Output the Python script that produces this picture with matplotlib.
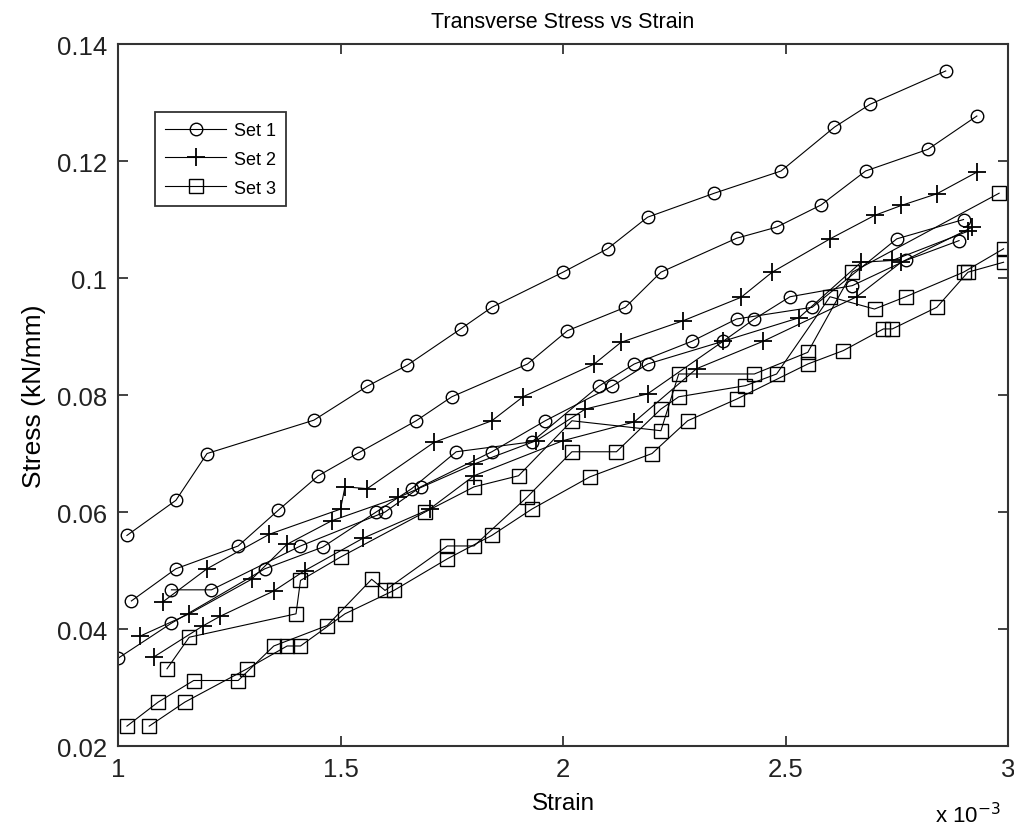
import numpy as np
import matplotlib
matplotlib.use("Agg")
from matplotlib import pyplot as plt

# Strain values are in units of 1e-3, stress in kN/mm.

# * Set 1 (circles)
s1a_x = [1.02, 1.13, 1.20, 1.44, 1.56, 1.65, 1.77, 1.84, 2.00, 2.10, 2.19, 2.34, 2.49, 2.61, 2.69, 2.86]
s1a_y = [0.056, 0.062, 0.070, 0.0757, 0.0815, 0.0851, 0.0913, 0.095, 0.101, 0.105, 0.1104, 0.1145, 0.1183, 0.1258, 0.1297, 0.1354]
s1b_x = [1.03, 1.13, 1.27, 1.36, 1.45, 1.54, 1.67, 1.75, 1.92, 2.01, 2.14, 2.22, 2.39, 2.48, 2.58, 2.68, 2.82, 2.93]
s1b_y = [0.0448, 0.0503, 0.0542, 0.0603, 0.0662, 0.0701, 0.0756, 0.0797, 0.0853, 0.091, 0.095, 0.101, 0.1068, 0.1087, 0.1125, 0.1183, 0.122, 0.1277]
s1c_x = [1.00, 1.12, 1.33, 1.46, 1.58, 1.66, 1.76, 1.93, 2.08, 2.16, 2.29, 2.39, 2.56, 2.75, 2.90]
s1c_y = [0.035, 0.041, 0.0503, 0.054, 0.060, 0.064, 0.0703, 0.072, 0.0815, 0.0853, 0.0892, 0.093, 0.095, 0.1067, 0.110]
s1d_x = [1.12, 1.21, 1.41, 1.60, 1.68, 1.84, 1.96, 2.11, 2.19, 2.36, 2.43, 2.51, 2.65, 2.77, 2.89]
s1d_y = [0.0467, 0.0467, 0.0542, 0.060, 0.0643, 0.0703, 0.0756, 0.0815, 0.0853, 0.0892, 0.093, 0.0968, 0.0987, 0.103, 0.1064]

# * Set 2 (plus)
s2a_x = [1.10, 1.20, 1.34, 1.50, 1.51, 1.56, 1.71, 1.84, 1.91, 2.07, 2.13, 2.27, 2.40, 2.47, 2.60, 2.70, 2.76, 2.84, 2.93]
s2a_y = [0.0446, 0.0503, 0.0562, 0.0605, 0.0643, 0.064, 0.0719, 0.0756, 0.0797, 0.0853, 0.089, 0.0927, 0.0967, 0.101, 0.1067, 0.1107, 0.1124, 0.1144, 0.1181]
s2b_x = [1.05, 1.16, 1.30, 1.38, 1.48, 1.63, 1.80, 1.94, 2.05, 2.19, 2.36, 2.53, 2.67, 2.74, 2.91]
s2b_y = [0.0388, 0.0426, 0.0485, 0.0545, 0.0585, 0.0625, 0.0682, 0.0722, 0.0776, 0.0802, 0.0892, 0.0932, 0.1027, 0.103, 0.108]
s2c_x = [1.08, 1.19, 1.23, 1.35, 1.42, 1.55, 1.70, 1.80, 2.00, 2.16, 2.30, 2.45, 2.66, 2.76, 2.92]
s2c_y = [0.0352, 0.0405, 0.0422, 0.0465, 0.050, 0.0555, 0.0605, 0.0662, 0.0722, 0.0754, 0.0845, 0.0892, 0.0968, 0.1027, 0.1087]

# * Set 3 (squares)
s3a_x = [1.02, 1.09, 1.17, 1.27, 1.35, 1.47, 1.57, 1.60, 1.74, 1.80, 1.92, 2.02, 2.12, 2.22, 2.26, 2.41, 2.48, 2.60, 2.70, 2.77, 2.90, 2.99]
s3a_y = [0.0234, 0.0275, 0.0312, 0.0312, 0.0371, 0.0406, 0.0485, 0.0466, 0.0542, 0.0542, 0.0626, 0.0703, 0.0703, 0.0776, 0.0797, 0.0816, 0.0836, 0.0968, 0.0947, 0.0968, 0.101, 0.105]
s3b_x = [1.07, 1.15, 1.29, 1.38, 1.41, 1.51, 1.62, 1.74, 1.84, 1.93, 2.06, 2.20, 2.28, 2.39, 2.55, 2.63, 2.72, 2.74, 2.84, 2.91, 2.99]
s3b_y = [0.0234, 0.0275, 0.0332, 0.0371, 0.0371, 0.0426, 0.0466, 0.052, 0.056, 0.0605, 0.066, 0.070, 0.0756, 0.0793, 0.0853, 0.0876, 0.0913, 0.0913, 0.095, 0.101, 0.1027]
s3c_x = [1.11, 1.16, 1.40, 1.41, 1.50, 1.69, 1.80, 1.90, 2.02, 2.22, 2.26, 2.43, 2.55, 2.65, 2.98]
s3c_y = [0.0332, 0.0386, 0.0426, 0.0483, 0.0523, 0.060, 0.0643, 0.0662, 0.0756, 0.0739, 0.0836, 0.0836, 0.0873, 0.101, 0.1145]

x_ticks = [1, 1.5, 2, 2.5, 3]
x_labels = ["1", "1.5", "2", "2.5", "3"]
y_ticks = [0.02, 0.04, 0.06, 0.08, 0.1, 0.12, 0.14]
y_labels = ["0.02", "0.04", "0.06", "0.08", "0.1", "0.12", "0.14"]

plt.rcParams['font.family'] = ['Liberation Sans', 'DejaVu Sans']

fig = plt.figure(figsize=(10.14, 8.28), dpi=100)
ax = fig.add_axes([0.1164, 0.0978, 0.8777, 0.8478])

lw = 0.8
circ = dict(marker='o', markersize=9, fillstyle='none', markeredgewidth=1.0)
plus = dict(marker='+', markersize=13, markeredgewidth=1.3)
sq = dict(marker='s', markersize=10, fillstyle='none', markeredgewidth=1.0)

ax.plot(s1a_x, s1a_y, 'k-', lw=lw, label='Set 1', **circ)
ax.plot(s1b_x, s1b_y, 'k-', lw=lw, **circ)
ax.plot(s1c_x, s1c_y, 'k-', lw=lw, **circ)
ax.plot(s1d_x, s1d_y, 'k-', lw=lw, **circ)
ax.plot(s2a_x, s2a_y, 'k-', lw=lw, label='Set 2', **plus)
ax.plot(s2b_x, s2b_y, 'k-', lw=lw, **plus)
ax.plot(s2c_x, s2c_y, 'k-', lw=lw, **plus)
ax.plot(s3a_x, s3a_y, 'k-', lw=lw, label='Set 3', **sq)
ax.plot(s3b_x, s3b_y, 'k-', lw=lw, **sq)
ax.plot(s3c_x, s3c_y, 'k-', lw=lw, **sq)

ax.set_xlim(1, 3)
ax.set_ylim(0.02, 0.14)
ax.set_xticks(x_ticks)
ax.set_xticklabels(x_labels)
ax.set_yticks(y_ticks)
ax.set_yticklabels(y_labels)
ax.tick_params(direction='in', top=True, right=True, length=7, width=1.2,
               labelsize=18.5, colors='#222222', pad=8)
for sp in ax.spines.values():
    sp.set_linewidth(1.5)
    sp.set_color('#333333')

ax.set_title('Transverse Stress vs Strain', fontsize=15.5, pad=12)
ax.set_xlabel('Strain', fontsize=17.5, labelpad=8)
ax.set_ylabel('Stress (kN/mm)', fontsize=19, labelpad=8)
ax.text(0.918, -0.097, r'x 10$^{-3}$', transform=ax.transAxes, fontsize=16,
        ha='left', va='center')

leg = ax.legend(loc='upper left', bbox_to_anchor=(0.0416, 0.903), borderaxespad=0,
                fancybox=False, edgecolor='#333333', fontsize=13,
                handlelength=3.4, handletextpad=0.4, borderpad=0.55,
                labelspacing=0.65, framealpha=1)
leg.get_frame().set_linewidth(1.3)

fig.savefig('out.png', dpi=100, facecolor='white')
